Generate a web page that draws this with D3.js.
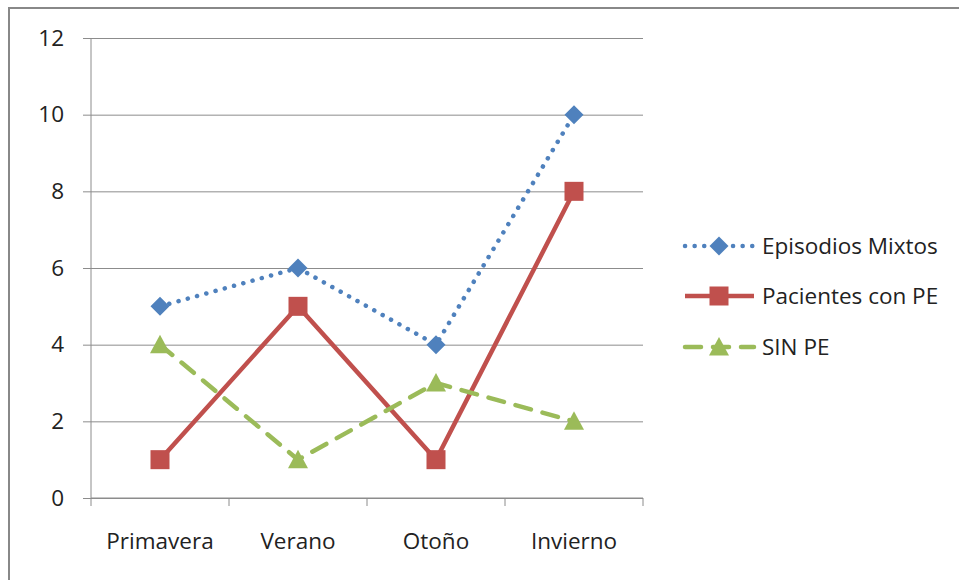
<!DOCTYPE html>
<html>
<head>
<meta charset="utf-8">
<script src="https://cdn.jsdelivr.net/npm/d3@7"></script>
<style>
  html, body { margin: 0; padding: 0; background: #fff; }
  svg { display: block; }
  text { font-family: "Open Sans", "Noto Sans", sans-serif; fill: #222; }
</style>
</head>
<body>
<svg id="chart" width="959" height="580"></svg>
<script>
// Seasonal counts per series
const categories = ["Primavera", "Verano", "Otoño", "Invierno"];
const episodiosMixtos = [5, 6, 4, 10];
const pacientesConPE = [1, 5, 1, 8];
const sinPE = [4, 1, 3, 2];
const yTicks = [0, 2, 4, 6, 8, 10, 12];
const seriesNames = ["Episodios Mixtos", "Pacientes con PE", "SIN PE"];

const series = [
  { name: seriesNames[0], values: episodiosMixtos, color: "#4F81BD", marker: "diamond", dash: "0.1 9.5", cap: "round" },
  { name: seriesNames[1], values: pacientesConPE, color: "#C0504D", marker: "square", dash: null, cap: "butt" },
  { name: seriesNames[2], values: sinPE, color: "#9BBB59", marker: "triangle", dash: "16 12", cap: "round" }
];

const svg = d3.select("#chart");
const FONT = 22.5;

// outer frame
svg.append("rect")
  .attr("x", 9).attr("y", 8).attr("width", 960).attr("height", 600)
  .attr("fill", "none").attr("stroke", "#888").attr("stroke-width", 2);

const plot = { left: 91, right: 643, top: 38, bottom: 498 };

const x = d3.scaleBand().domain(categories).range([plot.left, plot.right]);
const y = d3.scaleLinear().domain([0, 12]).range([plot.bottom, plot.top]);

// horizontal gridlines with left tick marks
const yAxis = d3.axisLeft(y).tickValues(yTicks).tickSize(-(plot.right - plot.left)).tickPadding(18);
const gy = svg.append("g").attr("transform", `translate(${plot.left},0)`).call(yAxis);
gy.select(".domain").remove();
gy.selectAll(".tick line").attr("stroke", "#8c8c8c").attr("stroke-width", 1).attr("x1", -8);
gy.selectAll(".tick text").attr("font-size", FONT).attr("fill", "#222")
  .attr("font-family", '"Open Sans", sans-serif').attr("x", -27);

// vertical axis line
svg.append("line")
  .attr("x1", plot.left).attr("x2", plot.left)
  .attr("y1", plot.top).attr("y2", plot.bottom)
  .attr("stroke", "#8c8c8c");

// category axis with boundary ticks
const gx = svg.append("g").attr("transform", `translate(0,${plot.bottom})`);
gx.append("line").attr("x1", plot.left).attr("x2", plot.right).attr("stroke", "#8c8c8c");
const bounds = categories.map(c => x(c)).concat([x(categories[categories.length - 1]) + x.bandwidth()]);
gx.selectAll("line.bt").data(bounds).join("line").attr("class", "bt")
  .attr("x1", d => d).attr("x2", d => d).attr("y1", 0).attr("y2", 8)
  .attr("stroke", "#8c8c8c");
gx.selectAll("text").data(categories).join("text")
  .attr("x", d => x(d) + x.bandwidth() / 2).attr("y", 51)
  .attr("text-anchor", "middle").attr("font-size", FONT).text(d => d);

const cx = c => x(c) + x.bandwidth() / 2;

function drawMarker(g, type, color, px, py) {
  if (type === "diamond") {
    const s = 9.5;
    g.append("path").attr("d", `M${px},${py - s}L${px + s},${py}L${px},${py + s}L${px - s},${py}Z`).attr("fill", color);
  } else if (type === "square") {
    const s = 9.5;
    g.append("rect").attr("x", px - s).attr("y", py - s).attr("width", 2 * s).attr("height", 2 * s).attr("fill", color);
  } else {
    const s = 10;
    g.append("path").attr("d", `M${px},${py - s}L${px + s},${py + s * 0.85}L${px - s},${py + s * 0.85}Z`).attr("fill", color);
  }
}

const line = d3.line().x((d, i) => cx(categories[i])).y(d => y(d));

series.forEach(s => {
  const g = svg.append("g");
  g.append("path").attr("d", line(s.values))
    .attr("fill", "none").attr("stroke", s.color).attr("stroke-width", 4.5)
    .attr("stroke-dasharray", s.dash).attr("stroke-linecap", s.cap).attr("stroke-linejoin", "round");
  s.values.forEach((v, i) => drawMarker(g, s.marker, s.color, cx(categories[i]), y(v)));
});

// legend
const legendY = [246, 296, 347];
series.forEach((s, i) => {
  const g = svg.append("g");
  const ly = legendY[i];
  g.append("line").attr("x1", 685).attr("x2", 754).attr("y1", ly).attr("y2", ly)
    .attr("stroke", s.color).attr("stroke-width", 4.5)
    .attr("stroke-dasharray", s.dash).attr("stroke-linecap", s.cap);
  drawMarker(g, s.marker, s.color, 719, ly);
  g.append("text").attr("x", 762).attr("y", ly + 8).attr("font-size", FONT).text(s.name);
});
</script>
</body>
</html>
